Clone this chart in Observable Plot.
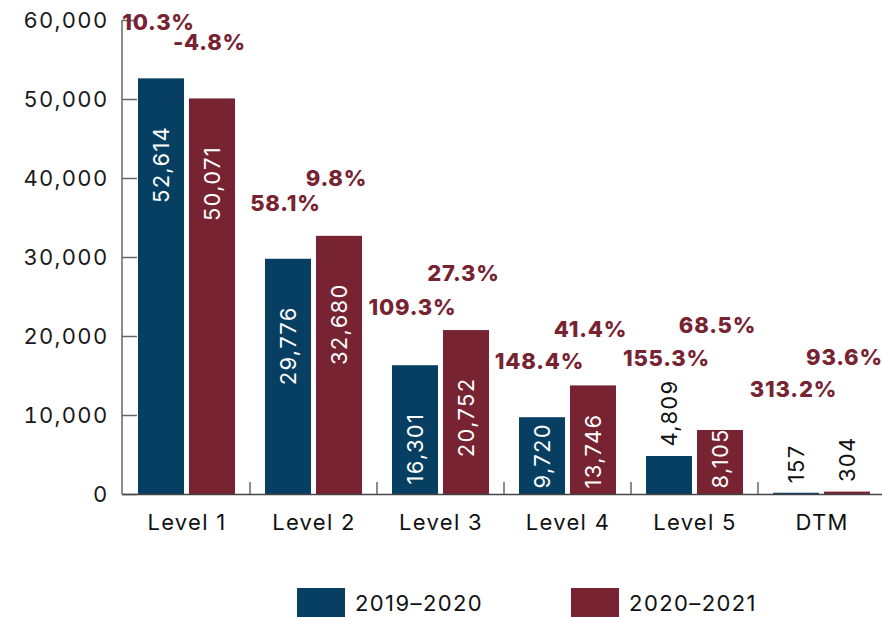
<!DOCTYPE html>
<html><head><meta charset="utf-8">
<script src="https://cdn.jsdelivr.net/npm/d3@7"></script>
<script src="https://cdn.jsdelivr.net/npm/@observablehq/plot@0.6"></script>
<style>
body{margin:0;background:#fff;font-family:Inter,"DejaVu Sans",sans-serif;}
#legend{display:flex;align-items:center;margin-left:297px;margin-top:18px;font-size:22px;letter-spacing:1.4px;color:#111;}
.item{display:flex;align-items:center;margin-right:88px;}
.sw{width:48px;height:29px;margin-right:10px;}
svg text{letter-spacing:1.3px;}
svg text.pct{letter-spacing:0.8px;}
</style></head><body>
<div id="chart"></div><div id="legend"></div>
<script>
const levels = ["Level 1","Level 2","Level 3","Level 4","Level 5","DTM"];
const years = ["2019–2020","2020–2021"];
const values2019 = [52614,29776,16301,9720,4809,157];
const values2020 = [50071,32680,20752,13746,8105,304];
const pct2019 = ["10.3%","58.1%","109.3%","148.4%","155.3%","313.2%"];
const pct2020 = ["-4.8%","9.8%","27.3%","41.4%","68.5%","93.6%"];
const pctAnchor2019 = [59750,36835,23670,16835,17215,13290];
const pctAnchor2020 = [57215,40000,27975,20886,21392,17340];
const yTicks = [0,10000,20000,30000,40000,50000,60000];
const colors = ["#073f62","#772332"];

const series = [
  {year: years[0], values: values2019, pct: pct2019, anchor: pctAnchor2019, side: -1, nudge: -3},
  {year: years[1], values: values2020, pct: pct2020, anchor: pctAnchor2020, side: 1, nudge: -3}
];
const fmt = d3.format(",");
const marks = [];
const half = 25.5;
for (const s of series) {
  const rows = levels.map((level, i) => ({level, year: s.year, value: s.values[i], pct: s.pct[i], anchor: s.anchor[i]}));
  marks.push(Plot.barY(rows, {x: "level", y: "value", fill: "year",
    insetLeft: s.side < 0 ? 0 : 51, insetRight: s.side < 0 ? 51 : 0}));
  const dx = s.side * half;
  marks.push(Plot.text(rows.filter(d => d.value >= 15000), {x: "level", y: "value", text: d => fmt(d.value),
    rotate: -90, textAnchor: "end", dx, dy: 47, fill: "white", fontSize: 22}));
  marks.push(Plot.text(rows.filter(d => d.value < 15000 && d.value >= 6000), {x: "level", y: () => 0, text: d => fmt(d.value),
    rotate: -90, textAnchor: "start", dx, dy: -6, fill: "white", fontSize: 22}));
  marks.push(Plot.text(rows.filter(d => d.value < 6000), {x: "level", y: "value", text: d => fmt(d.value),
    rotate: -90, textAnchor: "start", dx, dy: -10, fill: "#111", fontSize: 22}));
  marks.push(Plot.text(rows, {x: "level", y: "anchor", text: "pct", dx: dx + s.nudge, fill: colors[1],
    fontSize: 22, fontWeight: 800, className: "pct"}));
}

const chart = Plot.plot({
  width: 882, height: 570,
  marginTop: 20, marginBottom: 76, marginLeft: 122, marginRight: 0,
  style: {fontFamily: "Inter, 'DejaVu Sans', sans-serif", fontSize: "22px", color: "#1a1a1a", background: "white"},
  x: {domain: levels, range: [122, 885], paddingInner: 0.237, paddingOuter: 0.118, align: 0.5, label: null},
  y: {domain: [0, 60000], label: null},
  color: {domain: years, range: colors},
  marks: [
    Plot.axisY({ticks: yTicks, tickSize: 0, tickPadding: 14, tickFormat: d3.format(","), fill: "#1a1a1a"}),
    Plot.axisY({ticks: yTicks, tickSize: -15, tickFormat: () => "", stroke: "#666", strokeWidth: 1.5}),
    Plot.axisX({tickSize: 0, tickPadding: 20, fill: "#111"}),
    ...marks,
    Plot.ruleY([0], {stroke: "#444", strokeWidth: 1.5})
  ]
});

// axis line and category boundary ticks from the chart's own scales
const xs = chart.scale("x"), ys = chart.scale("y");
const svg = d3.select(chart);
svg.selectAll("g.pct text").classed("pct", true);
const g = svg.append("g").attr("stroke", "#666").attr("stroke-width", 1.5);
const x0 = xs.range[0];
g.append("line").attr("x1", x0).attr("x2", x0).attr("y1", ys.apply(0)).attr("y2", ys.apply(60000));
const gap = (xs.step - xs.bandwidth) / 2;
levels.slice(1).forEach(l => {
  const bx = xs.apply(l) - gap;
  g.append("line").attr("x1", bx).attr("x2", bx).attr("y1", ys.apply(0)).attr("y2", ys.apply(0) - 12);
});
document.getElementById("chart").append(chart);

const legend = d3.select("#legend");
years.forEach((y, i) => {
  const it = legend.append("div").attr("class", "item");
  it.append("div").attr("class", "sw").style("background", colors[i]);
  it.append("span").text(y);
});
</script>
</body></html>
